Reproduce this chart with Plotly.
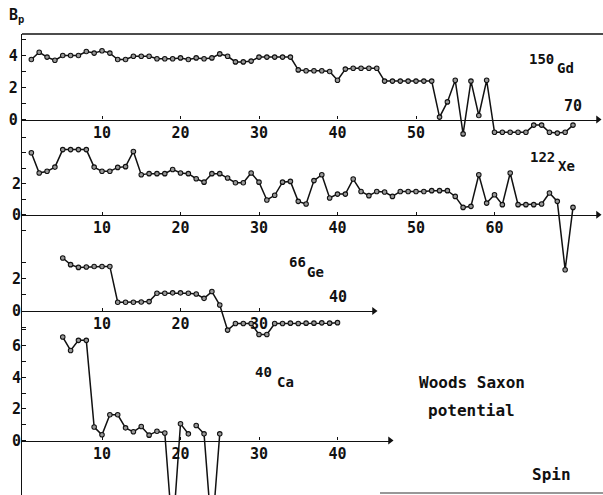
import plotly.graph_objects as go

# ---------------- data ----------------
gd_spin = list(range(1, 71))
gd_bp = [3.75, 4.2, 3.9, 3.7, 4.0, 4.0, 4.0, 4.25, 4.15, 4.3,
         4.15, 3.75, 3.75, 3.95, 3.95, 3.95, 3.8, 3.8, 3.8, 3.85,
         3.75, 3.85, 3.8, 3.85, 4.1, 3.95, 3.6, 3.6, 3.65, 3.9,
         3.9, 3.9, 3.9, 3.9, 3.1, 3.05, 3.05, 3.05, 3.0, 2.45,
         3.15, 3.2, 3.2, 3.2, 3.2, 2.4, 2.4, 2.4, 2.4, 2.4,
         2.4, 2.4, 0.15, 1.1, 2.45, -0.9, 2.4, 0.25, 2.45, -0.8,
         -0.8, -0.8, -0.8, -0.8, -0.35, -0.35, -0.8, -0.85, -0.8, -0.35]

xe_spin = list(range(1, 71))
xe_bp = [4.0, 2.69, 2.8, 3.07, 4.2, 4.2, 4.2, 4.2, 3.07, 2.8,
         2.8, 3.05, 3.1, 4.08, 2.58, 2.65, 2.65, 2.65, 2.92, 2.69,
         2.65, 2.32, 2.1, 2.65, 2.65, 2.37, 2.06, 2.06, 2.69, 2.1,
         0.95, 1.25, 2.1, 2.15, 0.86, 0.69, 2.2, 2.58, 1.08, 1.33,
         1.33, 2.3, 1.5, 1.23, 1.5, 1.46, 1.18, 1.5, 1.5, 1.5,
         1.5, 1.55, 1.55, 1.55, 1.18, 0.47, 0.54, 2.58, 0.75, 1.29,
         0.65, 2.69, 0.65, 0.65, 0.65, 0.69, 1.4, 0.86, -3.55, 0.47]

ge_spin = list(range(5, 41))
ge_bp = [3.27, 2.86, 2.69, 2.72, 2.75, 2.75, 2.75,
         0.54, 0.54, 0.54, 0.56, 0.58,
         1.1, 1.1, 1.12, 1.12, 1.1, 1.05,
         0.78, 1.2, 0.37, -1.18,
         -0.77, -0.77, -0.77, -1.45, -1.45,
         -0.77, -0.77, -0.75, -0.77, -0.75, -0.75, -0.73, -0.75, -0.72]

ca_spin = list(range(5, 26))
ca_bp = [6.55, 5.7, 6.34, 6.34, 0.85, 0.36, 1.63, 1.63, 0.8, 0.55,
         0.89, 0.34, 0.59, 0.47, -6.0, 1.06, 0.42, 0.95, 0.42, -6.0, 0.42]
ca_break_after = 21   # line is interrupted between spin 21 and 22

gd_xticks = [10, 20, 30, 40, 50]
xe_xticks = [10, 20, 30, 40, 50, 60]
ge_xticks = [10, 20, 30]
ca_xticks = [10, 20, 30, 40]

gd_yticks, gd_yminor = [0, 2, 4], [1, 3, 5]
xe_yticks, xe_yminor = [0, 2], [-1, 1, 3, 4, 5]
ge_yticks, ge_yminor = [0, 2], [-1, 1, 3]
ca_yticks, ca_yminor = [0, 2, 4, 6], [1, 3, 5, 7]

# ---------------- layout geometry (pixels) ----------------
W, H = 603, 495
X0, KX = 23.5, 7.85          # pixel of spin 0, pixels per spin unit
LEFT, TOP = 22, 34
FONT = "DejaVu Sans Mono"
INK = "#111111"

def px(x):
    return x / W

def py(y):
    return 1 - y / H

panels = [
    dict(name="gd", spin=gd_spin, bp=gd_bp, zero=119.5, ky=16.0, xend=598,
         xt=gd_xticks, yt=gd_yticks, ym=gd_yminor),
    dict(name="xe", spin=xe_spin, bp=xe_bp, zero=214.7, ky=15.5, xend=598,
         xt=xe_xticks, yt=xe_yticks, ym=xe_yminor),
    dict(name="ge", spin=ge_spin, bp=ge_bp, zero=311.0, ky=16.2, xend=374,
         xt=ge_xticks, yt=ge_yticks, ym=ge_yminor),
    dict(name="ca", spin=ca_spin, bp=ca_bp, zero=440.5, ky=15.8, xend=390,
         xt=ca_xticks, yt=ca_yticks, ym=ca_yminor),
]

fig = go.Figure()
line_style = dict(color=INK, width=1.5)
marker_style = dict(symbol="circle", size=4.5, color="#999999",
                    line=dict(color=INK, width=1.1))
tfont = dict(family=FONT, size=15, color=INK, weight="bold")

annotations = []
layout_axes = {}
for i, p in enumerate(panels, start=1):
    xa = "x" if i == 1 else f"x{i}"
    ya = "y" if i == 1 else f"y{i}"
    segments = [(p["spin"], p["bp"])]
    if p["name"] == "ca":
        k = p["spin"].index(ca_break_after) + 1
        segments = [(p["spin"][:k], p["bp"][:k]), (p["spin"][k:], p["bp"][k:])]
    for sx, sy in segments:
        fig.add_trace(go.Scatter(x=sx, y=sy, mode="lines+markers", xaxis=xa, yaxis=ya,
                                 line=line_style, marker=marker_style,
                                 hoverinfo="skip", showlegend=False))
    xmin = (LEFT - X0) / KX
    xmax = (p["xend"] - X0) / KX
    ybot = -(H - p["zero"]) / p["ky"]
    ytop = (p["zero"] - TOP) / p["ky"]
    # arrow head at the end of the spin axis
    fig.add_trace(go.Scatter(x=[xmax], y=[0], mode="markers", xaxis=xa, yaxis=ya,
                             marker=dict(symbol="triangle-right", size=7, color=INK),
                             cliponaxis=False, hoverinfo="skip", showlegend=False))
    xkey = "xaxis" if i == 1 else f"xaxis{i}"
    ykey = "yaxis" if i == 1 else f"yaxis{i}"
    layout_axes[xkey] = dict(
        domain=[px(LEFT), px(p["xend"])], range=[xmin, xmax], anchor="free",
        position=py(p["zero"]), showline=True, linecolor=INK, linewidth=1.4,
        ticks="inside", ticklen=3, tickwidth=1.2, tickcolor=INK,
        tickvals=p["xt"], ticktext=[str(v) for v in p["xt"]],
        tickfont=tfont, ticklabelstandoff=-1,
        showgrid=False, zeroline=False, fixedrange=True)
    layout_axes[ykey] = dict(
        domain=[0, py(TOP)], range=[ybot, ytop], anchor=xa,
        showline=(i == 1), linecolor=INK, linewidth=1.4,
        ticks="inside", ticklen=4, tickwidth=1.2, tickcolor=INK,
        tickvals=p["yt"], ticktext=[str(v) for v in p["yt"]],
        minor=dict(tickvals=p["ym"], ticks="inside", ticklen=4, tickwidth=1.2,
                   tickcolor=INK, showgrid=False),
        tickfont=tfont, ticklabelstandoff=0,
        showgrid=False, zeroline=False, fixedrange=True)

# axis labels placed above the line
annotations.append(dict(x=70, y=0, xref="x", yref="y", text="70", showarrow=False,
                        yanchor="bottom", yshift=3, font=tfont))
annotations.append(dict(x=40, y=0, xref="x3", yref="y3", text="40", showarrow=False,
                        yanchor="bottom", yshift=3, font=tfont))

def txt(t, x, y, size=15, anchor="center"):
    annotations.append(dict(x=px(x), y=py(y), xref="paper", yref="paper", text=t,
                            showarrow=False, xanchor=anchor, yanchor="middle",
                            font=dict(family=FONT, size=size, color=INK, weight="bold")))

txt("B<sub>p</sub>", 7, 16, 15, "left")
txt("150", 541, 59, 14); txt("Gd", 565, 68, 14)
txt("122", 542, 157, 14); txt("Xe", 566, 166, 14)
txt("66", 297, 262, 14); txt("Ge", 316, 272, 14)
txt("40", 263, 372, 14); txt("Ca", 285, 382, 14)
txt("Woods Saxon", 472, 382, 16)
txt("potential", 471, 410, 16)
txt("Spin", 551, 474, 16)

shapes = [
    dict(type="line", xref="paper", yref="paper", x0=px(LEFT), x1=1, y0=py(TOP), y1=py(TOP),
         line=dict(color=INK, width=1.4)),
    dict(type="line", xref="paper", yref="paper", x0=px(380), x1=1, y0=py(493), y1=py(493),
         line=dict(color="#333333", width=1.2)),
]

fig.update_layout(width=W, height=H, autosize=False,
                  margin=dict(l=0, r=0, t=0, b=0, pad=0),
                  paper_bgcolor="white", plot_bgcolor="rgba(0,0,0,0)",
                  showlegend=False, annotations=annotations, shapes=shapes,
                  **layout_axes)

fig.write_html("out.html", config={"displayModeBar": False},
               post_script="document.body.style.margin='0';document.body.style.overflow='hidden';")
